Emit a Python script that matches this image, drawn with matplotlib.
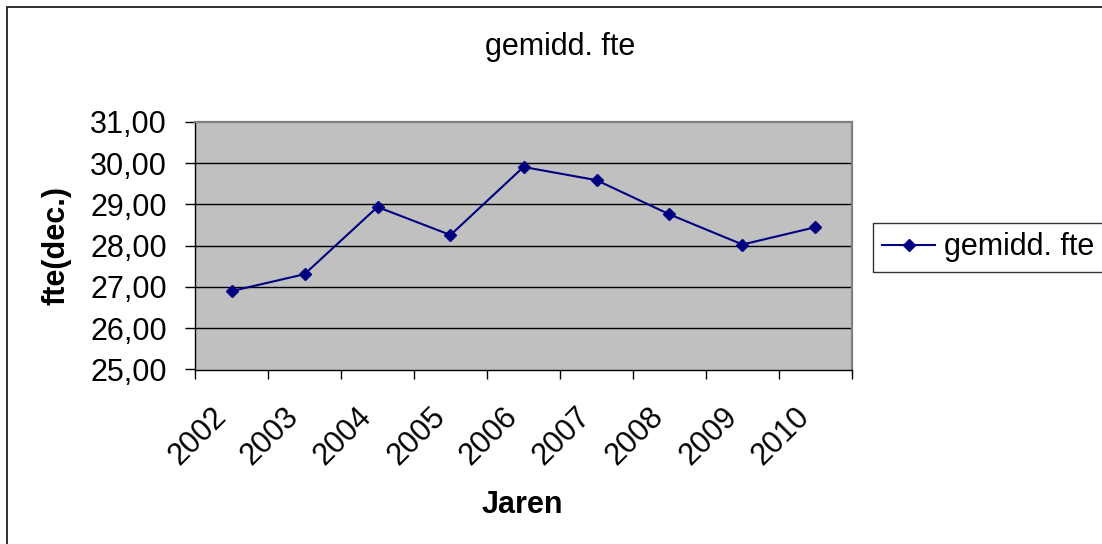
import matplotlib
matplotlib.use("Agg")
import matplotlib.pyplot as plt
import matplotlib.patches as mpatches
from matplotlib.transforms import ScaledTranslation

years = ["2002", "2003", "2004", "2005", "2006", "2007", "2008", "2009", "2010"]
fte = [26.90, 27.31, 28.94, 28.26, 29.91, 29.59, 28.76, 28.03, 28.45]
yticks = [25, 26, 27, 28, 29, 30, 31]
ytick_labels = ["25,00", "26,00", "27,00", "28,00", "29,00", "30,00", "31,00"]
series_name = "gemidd. fte"

plt.rcParams['font.family'] = ['Liberation Sans', 'DejaVu Sans']
FS = 22

W, H = 1102, 544
fig = plt.figure(figsize=(W / 100, H / 100), dpi=100)
fig.patch.set_facecolor("white")

# outer chart border (right/bottom cut off)
fig.add_artist(mpatches.Rectangle((7 / W, -0.2), 1.5, 1.2 - 6.5 / H,
                                  transform=fig.transFigure, fill=False,
                                  edgecolor="#202020", linewidth=1.3, clip_on=False))

L, R, T, B = 195, 852, 122, 369.5
ax = fig.add_axes([L / W, 1 - B / H, (R - L) / W, (B - T) / H])
ax.set_facecolor("#C0C0C0")

xs = [i + 0.5 for i in range(len(years))]
ax.plot(xs, fte, color="#000080", linewidth=1.5, marker="D", markersize=6.3,
        markerfacecolor="#000080", markeredgecolor="#000080", label=series_name,
        zorder=3)

ax.set_xlim(0, len(years))
ax.set_ylim(25, 31)

ax.set_yticks(yticks)
ax.set_yticklabels(ytick_labels, fontsize=FS)
for y in yticks[1:-1]:
    ax.axhline(y, color="black", linewidth=1.0, zorder=1)

ax.set_xticks(range(len(years) + 1))
ax.set_xticklabels([])
ax.set_xticks(xs, minor=True)
ax.set_xticklabels(years, minor=True, fontsize=FS, rotation=45,
                   rotation_mode="anchor", ha="right", va="center")
ax.tick_params(axis="x", which="minor", length=0, pad=31)
ax.tick_params(axis="x", which="major", direction="out", length=6.5, width=1, color="black")
ax.tick_params(axis="y", which="major", direction="out", length=7.2, width=1, color="black", pad=13)
off = ScaledTranslation(-10 / 100, 0, fig.dpi_scale_trans)
for lab in ax.get_xticklabels(minor=True):
    lab.set_transform(lab.get_transform() + off)

for s in ["left", "bottom"]:
    ax.spines[s].set_color("black")
    ax.spines[s].set_linewidth(1.0)
for s in ["top", "right"]:
    ax.spines[s].set_color("#808080")
    ax.spines[s].set_linewidth(1.6)

fig.text(560 / W, 1 - 55 / H, "gemidd. fte", fontsize=FS, ha="center", va="baseline")
fig.text(56 / W, 1 - 245.5 / H, "fte(dec.)", fontsize=FS, fontweight="bold",
         rotation=90, ha="center", va="center")
fig.text(522 / W, 1 - 512.7 / H, "Jaren", fontsize=FS, fontweight="bold",
         ha="center", va="baseline")

leg = ax.legend(loc="upper left", bbox_to_anchor=(872.7 / W, 1 - 223.3 / H),
                bbox_transform=fig.transFigure, fontsize=FS, frameon=True,
                fancybox=False, borderpad=0.3, handlelength=1.75,
                handletextpad=0.28, borderaxespad=0)
leg.get_frame().set_edgecolor("black")
leg.get_frame().set_linewidth(1.0)
leg.get_frame().set_facecolor("white")
leg.set_clip_on(False)

fig.savefig("out.png", dpi=100)
